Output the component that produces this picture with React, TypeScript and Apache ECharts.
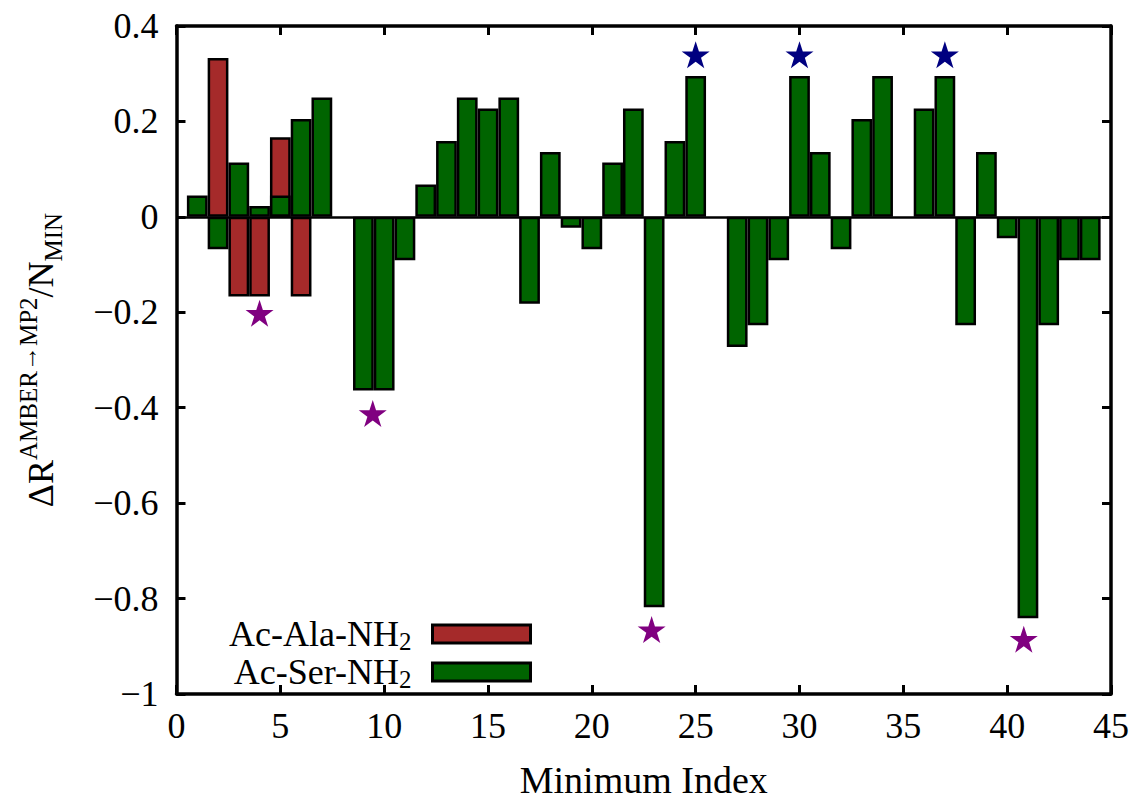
import React, { useEffect, useRef } from "react";
import * as echarts from "echarts";

const xTicks = { min: 0, max: 45, interval: 5 };
const yTicks = { min: -1, max: 0.4, interval: 0.2 };

const alaIndex = [2, 3, 4, 5, 6];
const alaValues = [0.333, -0.167, -0.167, 0.167, -0.167];

const serIndex = [
  1, 2, 3, 4, 5, 6, 7, 9, 10, 11, 12, 13, 14, 15, 16, 17, 18, 19, 20, 21, 22, 23, 24, 25,
  27, 28, 29, 30, 31, 32, 33, 34, 36, 37, 38, 39, 40, 41, 42, 43, 44,
];
const serValues = [
  0.045, -0.068, 0.114, 0.023, 0.045, 0.205, 0.25, -0.364, -0.364, -0.091, 0.068, 0.159, 0.25,
  0.227, 0.25, -0.182, 0.136, -0.023, -0.068, 0.114, 0.227, -0.818, 0.159, 0.295, -0.273,
  -0.227, -0.091, 0.295, 0.136, -0.068, 0.205, 0.295, 0.227, 0.295, -0.227, 0.136, -0.045,
  -0.841, -0.227, -0.091, -0.091,
];

const purpleStarX = [4, 9.45, 22.88, 40.8];
const purpleStarY = [-0.202, -0.412, -0.865, -0.885];
const blueStarX = [25, 30, 37];
const blueStarY = [0.34, 0.34, 0.34];

const STAR =
  "path://M50,0 L61.23,34.55 L97.55,34.55 L68.17,55.9 L79.39,90.45 L50,69.1 L20.61,90.45 L31.83,55.9 L2.45,34.55 L38.77,34.55 Z";

const FONT = "'Liberation Serif', 'DejaVu Serif', serif";
const W = 1135;
const H = 804;
const GRID = { left: 176.5, right: 24, top: 26, bottom: 106 };

export default function App() {
  const ref = useRef<HTMLDivElement>(null);
  useEffect(() => {
    document.body.style.margin = "0";
    if (!ref.current) return;
    const chart = echarts.init(ref.current, undefined, { renderer: "svg" });
    const plotW = W - GRID.left - GRID.right;
    const barW = plotW / (xTicks.max - xTicks.min);
    const fmtY = (v: number) => {
      const s = Math.abs(v) < 1e-9 ? "0" : String(+v.toFixed(1));
      return s.replace("-", "\u2212");
    };
    const axisLine = { show: true, onZero: false, lineStyle: { color: "#000", width: 3.5 } };
    const axisTick = { show: true, inside: true, length: 9, lineStyle: { color: "#000", width: 3 } };
    const labelStyle = { fontFamily: FONT, fontSize: 36, color: "#000" };
    chart.setOption({
      animation: false,
      textStyle: { fontFamily: FONT },
      grid: { ...GRID, containLabel: false },
      legend: {
        show: true,
        orient: "vertical",
        right: W - 532 - 5,
        top: 611,
        align: "right",
        itemWidth: 98,
        itemHeight: 18,
        itemGap: 0,
        icon: "rect",
        selectedMode: false,
        itemStyle: { borderColor: "#000", borderWidth: 3 },
        data: ["Ac-Ala-NH2", "Ac-Ser-NH2"],
        formatter: (name: string) => `{m|${name.slice(0, -1)}}{s|2}{g| }`,
        textStyle: {
          fontFamily: FONT,
          fontSize: 36,
          color: "#000",
          rich: {
            m: { fontFamily: FONT, fontSize: 36, color: "#000", lineHeight: 40 },
            s: { fontFamily: FONT, fontSize: 25, color: "#000", lineHeight: 22, verticalAlign: "bottom" },
            g: { fontFamily: FONT, width: 16, fontSize: 10, lineHeight: 40 },
          },
        },
      },
      xAxis: [
        {
          type: "value",
          ...xTicks,
          position: "bottom",
          name: "Minimum Index",
          nameLocation: "middle",
          nameGap: 67,
          nameTextStyle: { fontFamily: FONT, fontSize: 38, color: "#000" },
          axisLine,
          axisTick,
          splitLine: { show: false },
          axisLabel: { ...labelStyle, margin: 14 },
        },
        {
          type: "value",
          ...xTicks,
          position: "top",
          axisLine,
          axisTick,
          splitLine: { show: false },
          axisLabel: { show: false },
        },
      ],
      yAxis: [
        {
          type: "value",
          ...yTicks,
          position: "left",
          name: "{m|\u0394R}{sup|AMBER\u2192MP2}{m|/N}{sub|MIN}",
          nameLocation: "middle",
          nameRotate: 90,
          nameGap: 111,
          nameTextStyle: {
            fontFamily: FONT,
            fontSize: 36,
            color: "#000",
            rich: {
              m: { fontFamily: FONT, fontSize: 36, color: "#000", lineHeight: 50 },
              sup: { fontFamily: FONT, fontSize: 25, color: "#000", lineHeight: 24, verticalAlign: "top" },
              sub: { fontFamily: FONT, fontSize: 25, color: "#000", lineHeight: 24, verticalAlign: "bottom" },
            },
          },
          axisLine,
          axisTick,
          splitLine: { show: false },
          axisLabel: { ...labelStyle, margin: 18, formatter: fmtY },
        },
        {
          type: "value",
          ...yTicks,
          position: "right",
          axisLine,
          axisTick,
          splitLine: { show: false },
          axisLabel: { show: false },
        },
      ],
      series: [
        {
          name: "Ac-Ala-NH2",
          type: "bar",
          barWidth: barW,
          barGap: "-100%",
          itemStyle: { color: "#A52A2A", borderColor: "#000", borderWidth: 2.5 },
          data: alaIndex.map((x, i) => [x, alaValues[i]]),
          z: 2,
        },
        {
          name: "Ac-Ser-NH2",
          type: "bar",
          barWidth: barW,
          barGap: "-100%",
          itemStyle: { color: "#006400", borderColor: "#000", borderWidth: 2.5 },
          data: serIndex.map((x, i) => [x, serValues[i]]),
          z: 3,
          markLine: {
            silent: true,
            symbol: ["none", "none"],
            label: { show: false },
            lineStyle: { color: "#000", width: 2.5, type: "solid" },
            data: [{ yAxis: 0 }],
            z: 4,
          },
        },
        {
          name: "purple stars",
          type: "scatter",
          symbol: STAR,
          symbolSize: [28, 27],
          itemStyle: { color: "#800080", opacity: 1 },
          data: purpleStarX.map((x, i) => [x, purpleStarY[i]]),
          z: 5,
        },
        {
          name: "blue stars",
          type: "scatter",
          symbol: STAR,
          symbolSize: [28, 27],
          itemStyle: { color: "#000080", opacity: 1 },
          data: blueStarX.map((x, i) => [x, blueStarY[i]]),
          z: 5,
        },
      ],
    });
    return () => chart.dispose();
  }, []);
  return (
    <div style={{ background: "#fff" }}>
      <style>{`svg text, svg tspan { font-family: 'Liberation Serif', 'DejaVu Serif', serif !important; }`}</style>
      <div ref={ref} style={{ width: W, height: H }} />
    </div>
  );
}
